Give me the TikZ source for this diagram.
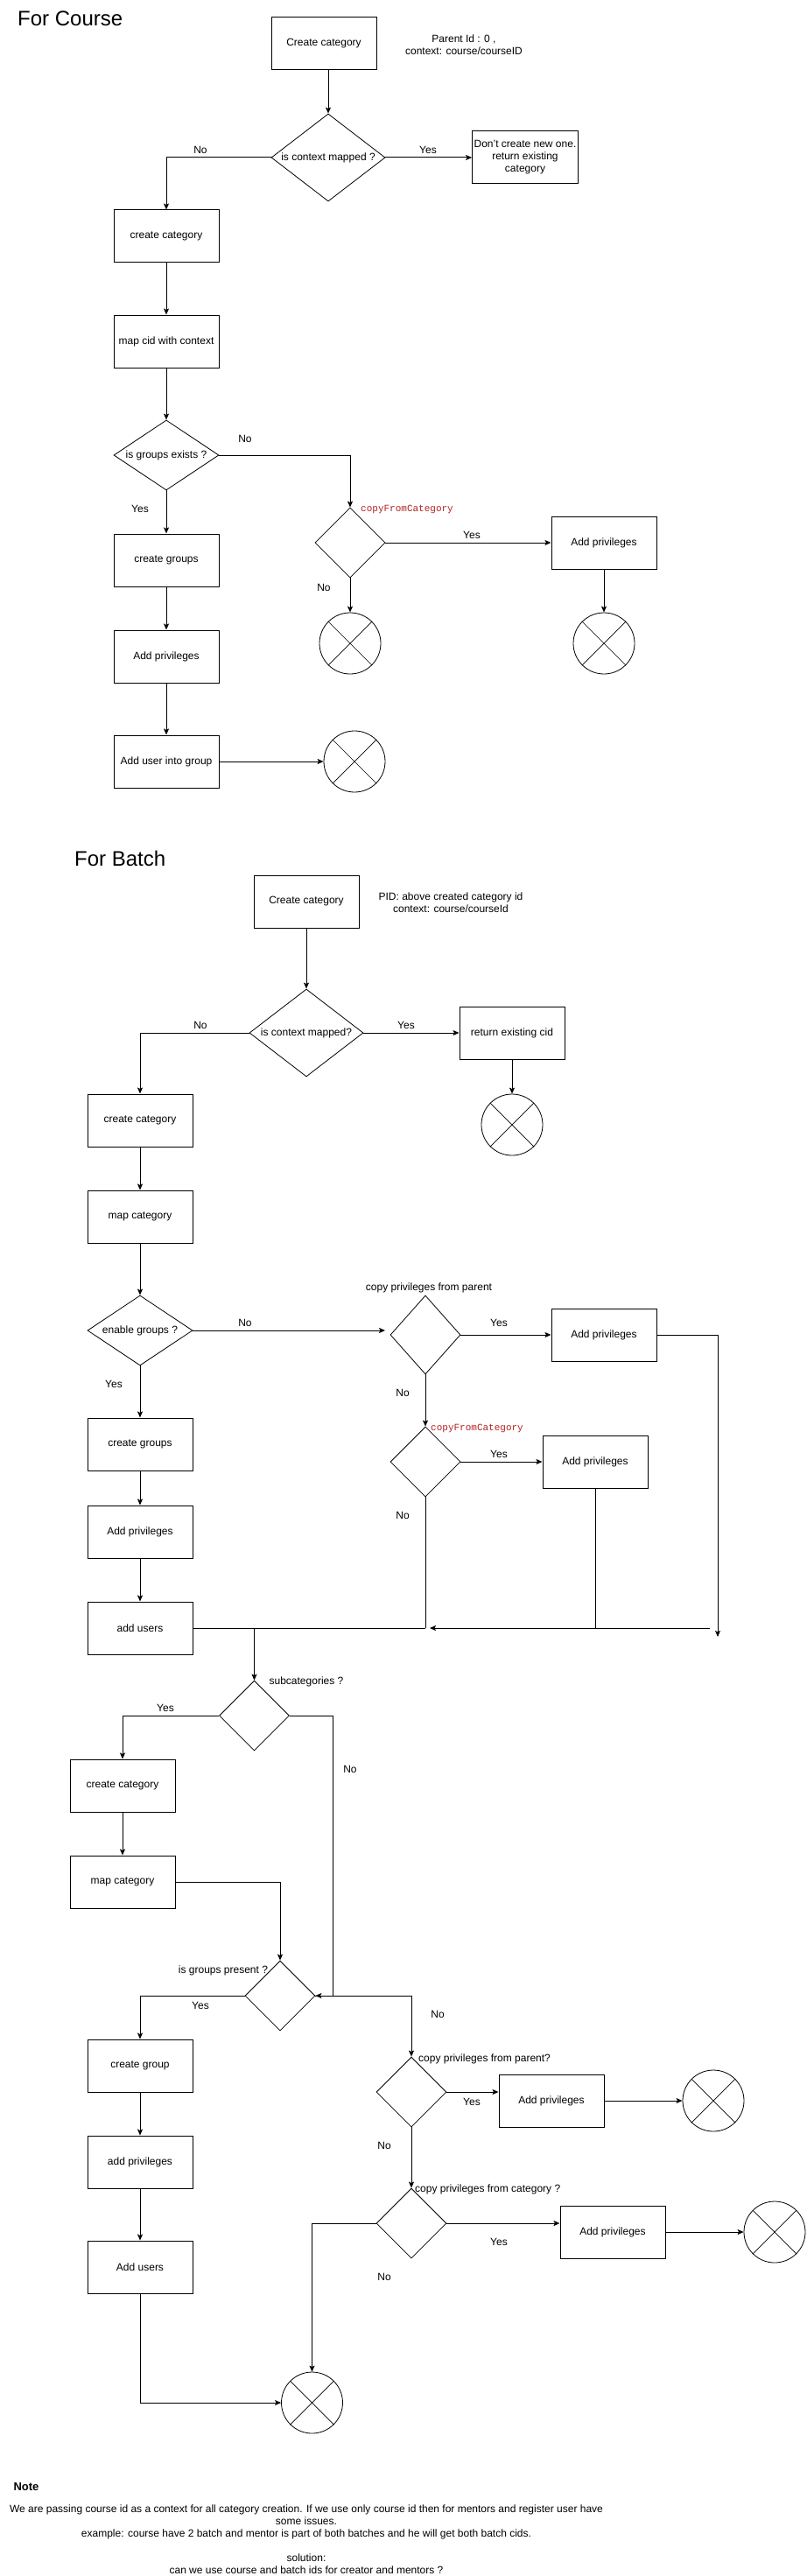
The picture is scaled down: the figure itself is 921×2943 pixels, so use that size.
\documentclass[tikz,border=0pt]{standalone}
\usepackage{fontspec}
\setmainfont{Liberation Sans}
\newfontfamily\monofont{Liberation Mono}
\usetikzlibrary{shapes.geometric,arrows.meta}
\definecolor{codered}{RGB}{180,32,32}
\tikzset{
  txt/.style={font=\fontsize{12}{14}\selectfont},
  box/.style={draw, line width=1pt, minimum width=120pt, minimum height=60pt, inner sep=2pt, align=center, txt},
  dia/.style={draw, diamond, inner sep=0pt, line width=0.8pt},
  endc/.style={draw, circle, minimum size=70pt, inner sep=0pt, line width=0.8pt},
  arr/.style={line width=1pt, -{Stealth[length=7pt,width=6pt,inset=1.5pt]}},
  ln/.style={line width=1pt},
  thin/.style={line width=0.7pt},
  lbl/.style={txt, inner sep=0pt, align=center},
  code/.style={font=\monofont\fontsize{11}{13}\selectfont, text=codered, inner sep=0pt, anchor=west},
  title/.style={font=\fontsize{24}{28}\selectfont, inner sep=0pt, anchor=base west},
}
\begin{document}
\begin{tikzpicture}[x=1pt,y=-1pt]
\useasboundingbox (0,0) rectangle (921,2943);

% ---------------- For Course ----------------
\node[title] (t1) at (20,30) {For Course};
\node[box] (c1) at (370,50) {Create category};
\node[lbl] (n1) at (530,51) {Parent Id : 0 ,\\context: course/courseID};
\node[dia, minimum width=130pt, minimum height=100pt, label={[txt]center:is context mapped ?}] (d1) at (375,180) {};
\node[box] (r1) at (600,180) {Don't create new one.\\return existing\\category};
\node[box] (c2) at (190,270) {create category};
\node[box] (c3) at (190,390) {map cid with context};
\node[dia, minimum width=120pt, minimum height=80pt, label={[txt]center:is groups exists ?}] (d2) at (190,520) {};
\node[dia, minimum width=80pt, minimum height=80pt] (d3) at (400,620) {};
\node[code] (k3) at (412,582) {copyFromCategory};
\node[box] (p1) at (690,620) {Add privileges};
\node[endc] (e1) at (400,735) {};
\node[endc] (e2) at (690,735) {};
\node[box] (c4) at (190,640) {create groups};
\node[box] (c5) at (190,750) {Add privileges};
\node[box] (c6) at (190,870) {Add user into group};
\node[endc] (e3) at (405,870) {};

\draw[arr] (d1.north |- c1.south) -- (d1.north);
\draw[arr] (d1.west) -| (c2.north);
\node[lbl] (l1) at (229,171) {No};
\draw[arr] (d1.east) -- (r1.west);
\node[lbl] (l2) at (489,171) {Yes};
\draw[arr] (c2) -- (c3);
\draw[arr] (c3.south) -- (d2.north);
\draw[arr] (d2.east) -| (d3.north);
\node[lbl] (l3) at (280,501) {No};
\draw[arr] (d2.south) -- (c4.north);
\node[lbl] (l4) at (160,581) {Yes};
\draw[arr] (d3.east) -- (p1.west);
\node[lbl] (l5) at (539,611) {Yes};
\draw[arr] (d3.south) -- (e1.north);
\node[lbl] (l6) at (370,671) {No};
\draw[arr, thin] (p1.south) -- (e2.north);
\draw[arr] (c4) -- (c5);
\draw[arr] (c5) -- (c6);
\draw[arr] (c6.east) -- (e3.west);

% ---------------- For Batch ----------------
\node[title] (t2) at (85,989) {For Batch};
\node[box] (b1) at (350,1030) {Create category};
\node[lbl] (n2) at (515,1031) {PID: above created category id\\context: course/courseId};
\node[dia, minimum width=130pt, minimum height=100pt, label={[txt]center:is context mapped?}] (d4) at (350,1180) {};
\node[box] (b2) at (585,1180) {return existing cid};
\node[endc] (e4) at (585,1285) {};
\node[box] (b3) at (160,1280) {create category};
\node[box] (b4) at (160,1390) {map category};
\node[dia, minimum width=120pt, minimum height=80pt, label={[txt]center:enable groups ?}] (d5) at (160,1520) {};
\node[dia, minimum width=80pt, minimum height=90pt] (d6) at (486,1525) {};
\node[lbl] (n3) at (490,1471) {copy privileges from parent};
\node[box] (b5) at (690,1525) {Add privileges};
\coordinate (k1) at (820,1870);
\node[dia, minimum width=80pt, minimum height=80pt] (d7) at (486,1670) {};
\node[code] (k4) at (492,1632) {copyFromCategory};
\node[box] (b6) at (680,1670) {Add privileges};
\node[box] (b7) at (160,1650) {create groups};
\node[box] (b8) at (160,1750) {Add privileges};
\node[box] (b9) at (160,1860) {add users};
\coordinate (j1) at (811,1860);
\coordinate (j2) at (491,1860);

\draw[arr] (b1.south) -- (d4.north);
\draw[arr] (d4.west) -| (b3.north);
\node[lbl] (l7) at (229,1171) {No};
\draw[arr] (d4.east) -- (b2.west);
\node[lbl] (l8) at (464,1171) {Yes};
\draw[arr] (b2.south) -- (e4.north);
\draw[arr] (b3) -- (b4);
\draw[arr] (b4.south) -- (d5.north);
\draw[arr] (d5.east) -- (440,1520);
\node[lbl] (l9) at (280,1511) {No};
\draw[arr] (d6.east) -- (b5.west);
\node[lbl] (l10) at (570,1511) {Yes};
\draw[arr] (b5.east) -| (k1);
\draw[arr, thin] (d6.south) -- (d7.north);
\node[lbl] (l11) at (460,1591) {No};
\draw[arr] (d7.east) -- (b6.west);
\node[lbl] (l12) at (570,1661) {Yes};
\draw[thin] (b6.south) -- (b6.south |- j1);
\draw[arr] (j1) -- (j2);
\draw[thin] (d7.south) -- (d7.south |- b9.east);
\draw[ln] (d7.south |- b9.east) -- (b9.east);
\node[lbl] (l13) at (460,1731) {No};
\draw[arr] (d5.south) -- (b7.north);
\node[lbl] (l14) at (130,1581) {Yes};
\draw[arr] (b7) -- (b8);
\draw[arr] (b8) -- (b9);

\node[dia, minimum width=80pt, minimum height=80pt] (d8) at (290.5,1960) {};
\node[lbl] (n4) at (350,1921) {subcategories ?};
\node[box] (b10) at (140,2040) {create category};
\node[box] (b11) at (140,2150) {map category};
\node[dia, minimum width=80pt, minimum height=80pt] (d9) at (320,2280) {};
\node[lbl] (n5) at (255,2251) {is groups present ?};
\coordinate (k2) at (380,2280);
\node[box] (b12) at (160,2360) {create group};
\node[box] (b13) at (160,2470) {add privileges};
\node[box] (b14) at (160,2590) {Add users};
\node[dia, minimum width=80pt, minimum height=80pt] (d10) at (470,2390) {};
\node[lbl, anchor=west] (n6) at (478,2352) {copy privileges from parent?};
\node[box] (b15) at (630,2400) {Add privileges};
\node[endc] (e5) at (815,2400) {};
\node[dia, minimum width=80pt, minimum height=80pt] (d11) at (470,2540) {};
\node[lbl, anchor=west] (n7) at (474,2501) {copy privileges from category ?};
\node[box] (b16) at (700,2550) {Add privileges};
\node[endc] (e6) at (885,2550) {};
\node[endc] (e7) at (356.5,2745) {};

\draw[arr, thin] (d8.north |- b9.east) -- (d8.north);
\draw[arr] (d8.west) -| (b10.north);
\node[lbl] (l15) at (189,1951) {Yes};
\draw[ln] (d8.east) -| (k2);
\draw[arr] (k2) -- (d9.east);
\node[lbl] (l16) at (400,2021) {No};
\draw[arr] (b10) -- (b11);
\draw[arr] (b11.east) -| (d9.north);
\draw[arr] (d9.west) -| (b12.north);
\node[lbl] (l17) at (229,2291) {Yes};
\draw[arr] (d9.east) -| (d10.north);
\node[lbl] (l18) at (500,2301) {No};
\draw[arr] (b12) -- (b13);
\draw[arr] (b13) -- (b14);
\draw[arr] (d10.east) -- (d10.east -| b15.west);
\node[lbl] (l19) at (539,2401) {Yes};
\draw[arr] (b15.east) -- (e5.west);
\draw[arr] (d10.south) -- (d11.north);
\node[lbl] (l20) at (439,2451) {No};
\draw[arr] (d11.east) -- (d11.east -| b16.west);
\node[lbl] (l21) at (570,2561) {Yes};
\draw[arr] (b16.east) -- (e6.west);
\draw[arr] (d11.west) -| (e7.north);
\node[lbl] (l22) at (439,2601) {No};
\draw[arr] (b14.south) |- (e7.west);

\foreach \n in {e1,e2,e3,e4,e5,e6,e7}
  \draw[thin] (\n.45) -- (\n.225) (\n.135) -- (\n.-45);

% ---------------- Note ----------------
\node[font=\bfseries\fontsize{13}{15}\selectfont, inner sep=0pt] (nt) at (30,2841) {Note};
\node[lbl] (np) at (350,2901) {We are passing course id as a context for all category creation. If we use only course id then for mentors and register user have\\some issues.\\example: course have 2 batch and mentor is part of both batches and he will get both batch cids.\\[14pt]solution:\\can we use course and batch ids for creator and mentors ?};
\end{tikzpicture}
\end{document}
